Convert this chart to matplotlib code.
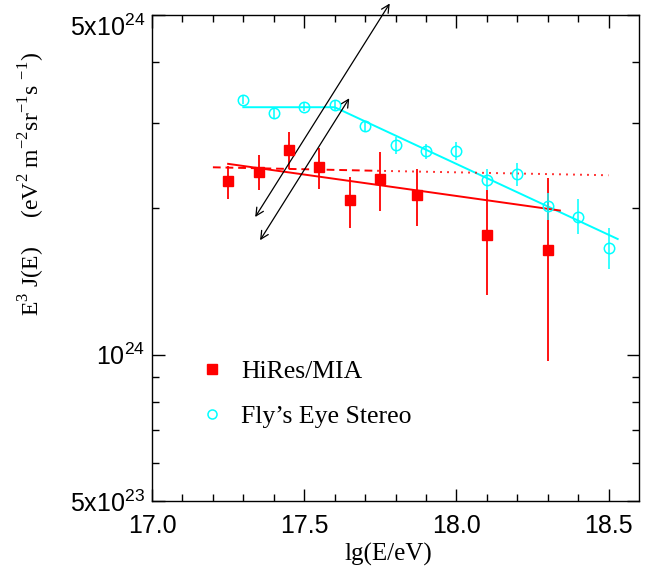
import numpy as np
import matplotlib
matplotlib.use("Agg")
import matplotlib.pyplot as plt
from matplotlib.lines import Line2D
from matplotlib.ticker import FixedLocator, NullFormatter

plt.rcParams['font.family'] = ['Liberation Serif', 'DejaVu Serif']
plt.rcParams['mathtext.fontset'] = 'custom'
plt.rcParams['mathtext.rm'] = 'Liberation Serif'
plt.rcParams['mathtext.sf'] = 'Liberation Sans'

# HiRes/MIA points (lg E, E^3 J, err low/high bounds)
hr_x = [17.25, 17.35, 17.45, 17.55, 17.65, 17.75, 17.87, 18.10, 18.30]
hr_y = [2.28e24, 2.375e24, 2.64e24, 2.43e24, 2.08e24, 2.30e24, 2.13e24, 1.76e24, 1.64e24]
hr_lo = [2.09e24, 2.18e24, 2.41e24, 2.19e24, 1.82e24, 1.98e24, 1.84e24, 1.33e24, 0.97e24]
hr_hi = [2.45e24, 2.58e24, 2.87e24, 2.66e24, 2.32e24, 2.61e24, 2.41e24, 2.18e24, 2.31e24]

# Fly's Eye Stereo points
fe_x = [17.3, 17.4, 17.5, 17.6, 17.7, 17.8, 17.9, 18.0, 18.1, 18.2, 18.3, 18.4, 18.5]
fe_y = [3.34e24, 3.14e24, 3.23e24, 3.27e24, 2.95e24, 2.70e24, 2.62e24, 2.63e24,
        2.29e24, 2.35e24, 2.02e24, 1.92e24, 1.66e24]
fe_lo = [3.28e24, 3.07e24, 3.17e24, 3.19e24, 2.87e24, 2.59e24, 2.53e24, 2.52e24,
         2.18e24, 2.22e24, 1.89e24, 1.77e24, 1.50e24]
fe_hi = [3.40e24, 3.21e24, 3.29e24, 3.35e24, 3.03e24, 2.81e24, 2.71e24, 2.74e24,
         2.41e24, 2.48e24, 2.15e24, 2.09e24, 1.82e24]

# fit lines
fe_fit_x = [17.3, 17.6, 18.53]
fe_fit_y = [3.23e24, 3.23e24, 1.73e24]
hr_fit_x = [17.25, 18.34]
hr_fit_y = [2.47e24, 1.98e24]
hr_dash_x = [17.2, 17.74]
hr_dash_y = [2.43e24, 2.39e24]
hr_dot_x = [17.74, 18.5]
hr_dot_y = [2.39e24, 2.34e24]

# arrows (bottom end, top end)
arrows = [((17.339, 1.92e24), (17.781, 5.28e24)),
          ((17.355, 1.72e24), (17.648, 3.37e24))]

red = '#ff0000'
cyan = '#00ffff'

fig = plt.figure(figsize=(6.57, 5.72), dpi=100)
ax = fig.add_axes([0.2314, 0.1241, 0.7412, 0.8497])
ax.set_yscale('log')

hr_y = np.array(hr_y)
fe_y = np.array(fe_y)
ax.errorbar(hr_x, hr_y, yerr=[hr_y - np.array(hr_lo), np.array(hr_hi) - hr_y],
            fmt='s', color=red, ms=7.2, elinewidth=1.3, capsize=0, zorder=3)
ax.errorbar(fe_x, fe_y, yerr=[fe_y - np.array(fe_lo), np.array(fe_hi) - fe_y],
            fmt='o', color=cyan, mfc='none', mec=cyan, mew=1.1, ms=7.5,
            elinewidth=1.1, capsize=0, zorder=3)

ax.plot(fe_fit_x, fe_fit_y, color=cyan, lw=1.4)
ax.plot(hr_fit_x, hr_fit_y, color=red, lw=1.4)
ax.plot(hr_dash_x, hr_dash_y, color=red, lw=1.4, linestyle=(0, (4, 2.5)))
ax.plot(hr_dot_x, hr_dot_y, color=red, lw=1.4, linestyle=(0, (0.8, 2.8)))

for (x0, y0), (x1, y1) in arrows:
    ax.annotate('', xy=(x1, y1), xytext=(x0, y0), annotation_clip=False,
                arrowprops=dict(arrowstyle='<->', color='black', lw=0.9,
                                shrinkA=0, shrinkB=0, mutation_scale=14))

ax.set_xlim(17.0, 18.6)
ax.set_ylim(5e23, 5e24)

ax.set_xticks([17.0, 17.5, 18.0, 18.5])
ax.set_xticklabels(['17.0', '17.5', '18.0', '18.5'])
ax.xaxis.set_minor_locator(FixedLocator(np.arange(17.1, 18.6, 0.1)))
ax.set_yticks([5e23, 1e24, 5e24])
ax.set_yticklabels([r'5x10$^{\mathsf{23}}$', r'10$^{\mathsf{24}}$', r'5x10$^{\mathsf{24}}$'])
ax.yaxis.set_minor_locator(FixedLocator([6e23, 7e23, 8e23, 9e23, 2e24, 3e24, 4e24]))
ax.yaxis.set_minor_formatter(NullFormatter())

ax.tick_params(which='both', direction='in', top=True, right=True, width=1)
ax.tick_params(which='major', length=9)
ax.tick_params(which='minor', length=5)
ax.tick_params(axis='x', pad=9)
ax.tick_params(axis='y', pad=5)
for lab in ax.get_xticklabels() + ax.get_yticklabels():
    lab.set_fontfamily('Liberation Sans')
    lab.set_fontsize(18)
ax.get_yticklabels()[2].set_verticalalignment('top')
for sp in ax.spines.values():
    sp.set_linewidth(1)

ax.set_xlabel('lg(E/eV)', fontsize=18)
ax.xaxis.set_label_coords(0.4846, -0.086)
ax.set_ylabel(r'E$^{3}$ J(E)     (eV$^{2}$ m$^{-2}$sr$^{-1}$s $^{-1}$)', fontsize=17)
ax.yaxis.set_label_coords(-0.216, 0.652)

handles = [Line2D([], [], marker='s', color=red, ls='none', ms=6.5),
           Line2D([], [], marker='o', color=cyan, mfc='none', ls='none', ms=6.5, mew=1.1)]
ax.legend(handles, ['HiRes/MIA', 'Fly\u2019s Eye Stereo'], loc='upper left',
          bbox_to_anchor=(0.0965, 0.290), frameon=False, fontsize=18.5,
          handlelength=1.0, handletextpad=0.65, labelspacing=0.85,
          borderpad=0, borderaxespad=0)

fig.savefig('out.png', dpi=100)
